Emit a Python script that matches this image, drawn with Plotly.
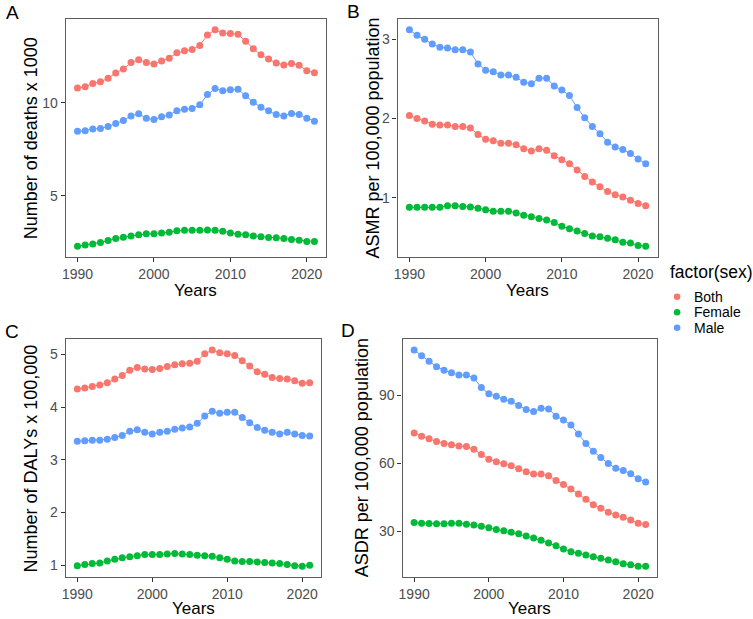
import plotly.graph_objects as go

W, H = 753, 619

years = list(range(1990, 2022))
sexes = ["Both", "Female", "Male"]
colors = {"Both": "#F8766D", "Female": "#00BA38", "Male": "#619CFF"}

# Panel A: Number of deaths x 1000
deaths_both = [10.78, 10.85, 11.03, 11.12, 11.30, 11.59, 11.80, 12.15, 12.30, 12.15,
               12.07, 12.23, 12.38, 12.67, 12.78, 12.85, 13.06, 13.62, 13.90, 13.73,
               13.70, 13.66, 13.29, 12.89, 12.56, 12.34, 12.12, 12.02, 12.10, 12.00,
               11.71, 11.60]
deaths_female = [2.31, 2.37, 2.43, 2.51, 2.62, 2.72, 2.79, 2.85, 2.92, 2.97,
                 2.97, 3.01, 3.06, 3.13, 3.17, 3.17, 3.17, 3.18, 3.17, 3.11,
                 3.01, 2.95, 2.92, 2.86, 2.81, 2.78, 2.76, 2.72, 2.67, 2.63,
                 2.56, 2.56]
deaths_male = [8.47, 8.50, 8.59, 8.61, 8.72, 8.88, 9.04, 9.29, 9.41, 9.16,
               9.09, 9.24, 9.34, 9.57, 9.64, 9.68, 9.88, 10.43, 10.75, 10.64,
               10.69, 10.71, 10.37, 10.02, 9.75, 9.57, 9.36, 9.29, 9.42, 9.36,
               9.16, 9.00]

# Panel B: ASMR per 100,000 population
asmr_both = [2.04, 2.00, 1.97, 1.93, 1.92, 1.92, 1.90, 1.90, 1.88, 1.80,
             1.74, 1.72, 1.69, 1.69, 1.67, 1.62, 1.59, 1.62, 1.60, 1.53,
             1.48, 1.43, 1.35, 1.27, 1.20, 1.14, 1.08, 1.04, 1.01, 0.97,
             0.93, 0.90]
asmr_female = [0.88, 0.88, 0.88, 0.88, 0.88, 0.90, 0.90, 0.89, 0.885, 0.87,
               0.85, 0.83, 0.83, 0.83, 0.81, 0.78, 0.76, 0.74, 0.72, 0.69,
               0.64, 0.61, 0.58, 0.55, 0.52, 0.51, 0.49, 0.47, 0.44, 0.43,
               0.40, 0.39]
asmr_male = [3.12, 3.05, 3.00, 2.94, 2.90, 2.89, 2.87, 2.87, 2.84, 2.69,
             2.61, 2.59, 2.55, 2.55, 2.52, 2.46, 2.44, 2.51, 2.51, 2.41,
             2.36, 2.29, 2.14, 2.01, 1.90, 1.81, 1.70, 1.64, 1.61, 1.56,
             1.49, 1.43]

# Panel C: Number of DALYs x 100,000
dalys_both = [4.34, 4.36, 4.39, 4.42, 4.46, 4.53, 4.60, 4.70, 4.75, 4.72,
              4.71, 4.73, 4.77, 4.80, 4.82, 4.83, 4.87, 5.01, 5.08, 5.03,
              5.01, 4.98, 4.88, 4.78, 4.67, 4.62, 4.56, 4.54, 4.53, 4.50,
              4.45, 4.46]
dalys_female = [0.99, 1.01, 1.03, 1.04, 1.08, 1.11, 1.14, 1.16, 1.18, 1.20,
                1.20, 1.20, 1.21, 1.22, 1.21, 1.20, 1.19, 1.18, 1.17, 1.14,
                1.11, 1.08, 1.07, 1.07, 1.06, 1.05, 1.04, 1.03, 1.01, 0.99,
                0.98, 1.00]
dalys_male = [3.35, 3.36, 3.37, 3.37, 3.39, 3.42, 3.46, 3.54, 3.57, 3.52,
              3.49, 3.52, 3.54, 3.58, 3.60, 3.62, 3.69, 3.83, 3.92, 3.88,
              3.90, 3.90, 3.80, 3.70, 3.61, 3.56, 3.52, 3.49, 3.52, 3.49,
              3.46, 3.45]

# Panel D: ASDR per 100,000 population
asdr_both = [73.4, 72.0, 70.9, 69.6, 68.8, 68.2, 67.7, 67.4, 66.2, 63.9,
             61.8, 60.7, 59.8, 58.9, 57.6, 56.3, 55.3, 55.3, 54.5, 52.5,
             50.7, 48.7, 46.5, 44.2, 41.8, 40.2, 38.5, 37.2, 36.3, 35.1,
             33.6, 33.1]
asdr_female = [33.9, 33.6, 33.5, 33.4, 33.4, 33.6, 33.6, 33.2, 32.8, 32.3,
               31.6, 30.9, 30.3, 29.7, 29.0, 28.0, 27.1, 26.1, 24.9, 23.7,
               22.3, 21.1, 20.4, 19.6, 18.9, 18.2, 17.4, 16.7, 15.8, 15.3,
               14.7, 14.7]
asdr_male = [109.9, 107.4, 105.0, 102.6, 101.0, 99.9, 98.9, 98.9, 97.6, 93.4,
             90.7, 89.6, 88.2, 87.4, 85.5, 83.7, 82.8, 84.3, 84.0, 80.8,
             79.1, 76.9, 72.9, 68.8, 65.3, 62.6, 59.9, 57.9, 56.9, 55.4,
             53.2, 51.8]

panel_labels = ["A", "B", "C", "D"]
y_titles = ["Number of deaths x 1000", "ASMR per 100,000 population",
            "Number of DALYs x 100,000", "ASDR per 100,000 population"]
x_title = "Years"
legend_title = "factor(sex)"
y_ticks = [[5, 10], [1, 2, 3], [1, 2, 3, 4, 5], [30, 60, 90]]

panels = [
    {"Both": deaths_both, "Female": deaths_female, "Male": deaths_male},
    {"Both": asmr_both, "Female": asmr_female, "Male": asmr_male},
    {"Both": dalys_both, "Female": dalys_female, "Male": dalys_male},
    {"Both": asdr_both, "Female": asdr_female, "Male": asdr_male},
]

# plot-area boxes in pixels: (left, right, top, bottom)
boxes = [(62, 324, 19, 257), (395.7, 657, 19, 257),
         (62, 319, 339.3, 577), (400.7, 656.7, 339.3, 577)]
label_pos = [(8.5, 12.5), (351, 12), (8.5, 331), (345.5, 330.5)]
ytitle_x = [27.5, 370.5, 27.5, 360]

FONT = "Liberation Sans, Arial, sans-serif"
fig = go.Figure()
layout = dict(width=W, height=H, margin=dict(l=0, r=0, t=0, b=0),
              paper_bgcolor="white", plot_bgcolor="white", showlegend=False,
              font=dict(family=FONT, color="black"))
annotations = []
shapes = []

xr = [years[0] - 0.05 * (years[-1] - years[0]), years[-1] + 0.05 * (years[-1] - years[0])]

for i, data in enumerate(panels):
    n = "" if i == 0 else str(i + 1)
    l, r, t, b = boxes[i]
    for s in sexes:
        fig.add_trace(go.Scatter(
            x=years, y=data[s], mode="lines+markers", name=s,
            line=dict(color=colors[s], width=1),
            marker=dict(color=colors[s], size=7, line=dict(width=0)),
            xaxis="x" + n, yaxis="y" + n, showlegend=False))
    allv = data["Both"] + data["Female"] + data["Male"]
    lo, hi = min(allv), max(allv)
    pad = 0.05 * (hi - lo)
    common = dict(showline=True, mirror=True, linecolor="#5c5c5c", linewidth=1.2,
                  ticks="outside", ticklen=4, tickcolor="#333333", tickwidth=1,
                  showgrid=False, zeroline=False,
                  tickfont=dict(family=FONT, size=14, color="#4D4D4D"))
    layout["xaxis" + n] = dict(common, domain=[l / W, r / W], range=xr,
                               tickvals=[1990, 2000, 2010, 2020],
                               anchor="y" + n)
    layout["yaxis" + n] = dict(common, domain=[1 - b / H, 1 - t / H],
                               range=[lo - pad, hi + pad], tickvals=y_ticks[i],
                               anchor="x" + n)
    # panel label
    lx, ly = label_pos[i]
    annotations.append(dict(text=panel_labels[i], xref="paper", yref="paper",
                            x=lx / W, y=1 - ly / H, showarrow=False,
                            xanchor="center", yanchor="middle",
                            font=dict(size=19, color="black", family=FONT)))
    # y title
    annotations.append(dict(text=y_titles[i], xref="paper", yref="paper",
                            x=ytitle_x[i] / W, y=1 - ((t + b) / 2) / H,
                            textangle=-90, showarrow=False,
                            xanchor="center", yanchor="middle",
                            font=dict(size=18, color="black", family=FONT)))
    # x title
    if i < 2:
        annotations.append(dict(text=x_title, xref="paper", yref="paper",
                                x=((l + r) / 2) / W, y=1 - 291 / H, showarrow=False,
                                xanchor="center", yanchor="middle",
                                font=dict(size=17, color="black", family=FONT)))
    else:
        annotations.append(dict(text=x_title, xref="paper", yref="paper",
                                x=((l + r) / 2) / W, y=0, showarrow=False,
                                xanchor="center", yanchor="bottom", borderpad=0,
                                font=dict(size=17, color="black", family=FONT)))

# legend (drawn manually to match ggplot spacing)
annotations.append(dict(text=legend_title, xref="paper", yref="paper",
                        x=667.5 / W, y=1 - 272 / H, showarrow=False,
                        xanchor="left", yanchor="middle",
                        font=dict(size=17.5, color="black", family=FONT)))
leg_y = [296.7, 312.2, 327.7]
for s, yy in zip(sexes, leg_y):
    shapes.append(dict(type="circle", xref="paper", yref="paper",
                       x0=(676.7 - 3.3) / W, x1=(676.7 + 3.3) / W,
                       y0=1 - (yy + 3.3) / H, y1=1 - (yy - 3.3) / H,
                       fillcolor=colors[s], line=dict(width=0)))
    annotations.append(dict(text=s, xref="paper", yref="paper",
                            x=692 / W, y=1 - yy / H, showarrow=False,
                            xanchor="left", yanchor="middle",
                            font=dict(size=14, color="black", family=FONT)))

layout["annotations"] = annotations
layout["shapes"] = shapes
fig.update_layout(**layout)
fig.write_html("out.html")
